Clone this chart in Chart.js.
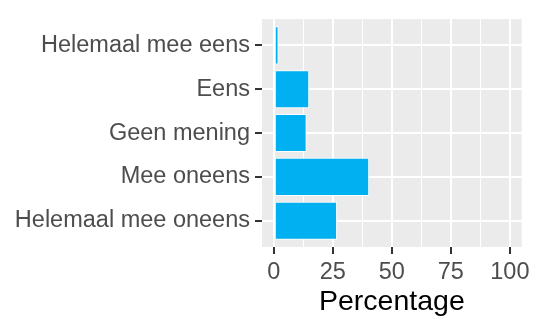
<!DOCTYPE html>
<html>
<head>
<meta charset="utf-8">
<script src="https://cdn.jsdelivr.net/npm/chart.js@4.4.1/dist/chart.umd.min.js"></script>
<style>
  html, body { margin: 0; padding: 0; background: #FFFFFF; }
  #wrap { width: 534px; height: 318px; }
</style>
</head>
<body>
<div id="wrap"><canvas id="myChart" width="534" height="318"></canvas></div>
<script>
// data, top to bottom
const categories = ['Helemaal mee eens', 'Eens', 'Geen mening', 'Mee oneens', 'Helemaal mee oneens'];
const percentages = [2.0, 15.0, 13.9, 40.4, 26.8];
const xTicks = [0, 25, 50, 75, 100];
const xMinorTicks = [12.5, 37.5, 62.5, 87.5];

// grey ggplot-like panel behind the bars
const panelBackground = {
    id: 'panelBackground',
    beforeDraw(chart) {
        const a = chart.chartArea;
        const c = chart.ctx;
        c.save();
        c.fillStyle = '#EBEBEB';
        c.fillRect(a.left, a.top, a.right - a.left, a.bottom - a.top);
        c.restore();
    }
};

function isMajor(v) {
    return xTicks.indexOf(v) !== -1;
}

const ctx = document.getElementById('myChart').getContext('2d');
const myChart = new Chart(ctx, {
    type: 'bar',
    data: {
        datasets: [{
            data: categories.map(function(c, i) {
                return { x: percentages[i], y: i + 1 };
            }),
            backgroundColor: '#00B0F0',
            borderColor: '#FFFFFF',
            borderWidth: 1,
            borderSkipped: false,
            categoryPercentage: 1,
            barPercentage: 0.87
        }]
    },
    options: {
        indexAxis: 'y',
        responsive: false,
        animation: false,
        layout: {
            padding: { top: 13, right: 11, left: 0, bottom: 0 }
        },
        plugins: {
            legend: { display: false },
            tooltip: { enabled: false }
        },
        scales: {
            x: {
                type: 'linear',
                min: -5,
                max: 105,
                afterBuildTicks: function(scale) {
                    scale.ticks = xTicks.concat(xMinorTicks)
                        .sort(function(a, b) { return a - b; })
                        .map(function(v) { return { value: v }; });
                },
                afterFit: function(scale) {
                    scale.height = 71;
                },
                border: { display: false },
                grid: {
                    color: '#FFFFFF',
                    lineWidth: function(c) { return isMajor(c.tick.value) ? 2 : 1; },
                    tickColor: function(c) { return isMajor(c.tick.value) ? '#333333' : 'rgba(0,0,0,0)'; },
                    tickWidth: 2,
                    tickLength: 7
                },
                ticks: {
                    autoSkip: false,
                    maxRotation: 0,
                    padding: 4,
                    color: '#4D4D4D',
                    font: { family: 'Liberation Sans', size: 23.5 },
                    callback: function(v) { return isMajor(v) ? String(v) : ''; }
                },
                title: {
                    display: true,
                    text: 'Percentage',
                    color: '#000000',
                    font: { family: 'Liberation Sans', size: 28.5 },
                    padding: { top: 0, bottom: -1 }
                }
            },
            y: {
                type: 'linear',
                min: 0.4,
                max: 5.6,
                reverse: true,
                offset: false,
                afterBuildTicks: function(scale) {
                    scale.ticks = categories.map(function(c, i) { return { value: i + 1 }; });
                },
                afterFit: function(scale) {
                    scale.width = 262;
                },
                border: { display: false },
                grid: {
                    offset: false,
                    color: '#FFFFFF',
                    lineWidth: 2,
                    tickColor: '#333333',
                    tickWidth: 2,
                    tickLength: 7
                },
                ticks: {
                    autoSkip: false,
                    padding: 5,
                    color: '#4D4D4D',
                    font: { family: 'Liberation Sans', size: 23.5 },
                    callback: function(v) { return categories[v - 1]; }
                }
            }
        }
    },
    plugins: [panelBackground]
});
</script>
</body>
</html>
